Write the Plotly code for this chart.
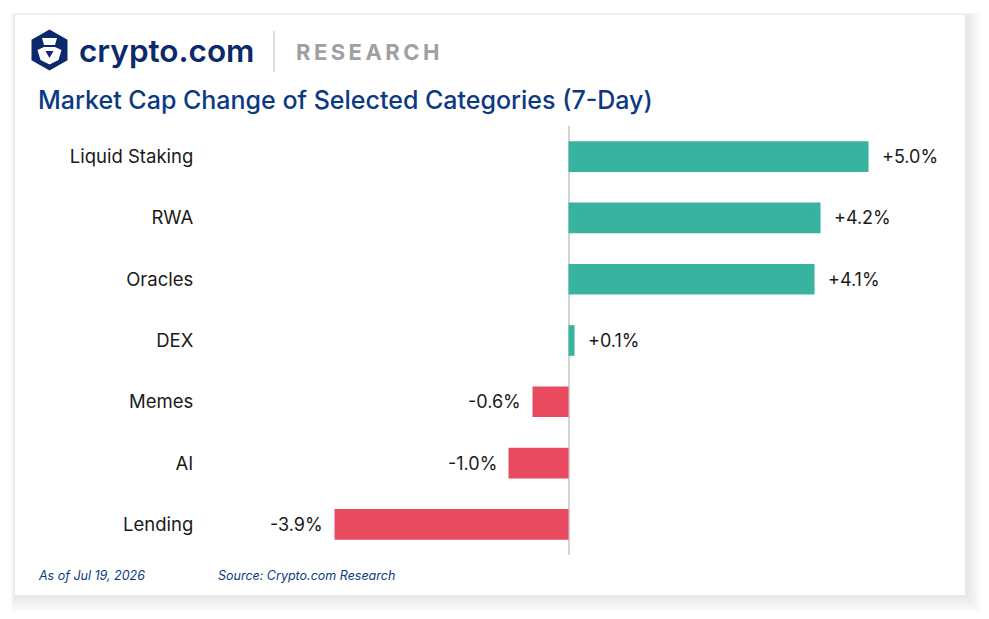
import plotly.graph_objects as go

# --- data ---
categories = ["Liquid Staking", "RWA", "Oracles", "DEX", "Memes", "AI", "Lending"]
changes = [5.0, 4.2, 4.1, 0.1, -0.6, -1.0, -3.9]

title_text = "Market Cap Change of Selected Categories (7-Day)"
as_of_text = "As of Jul 19, 2026"
source_text = "Source: Crypto.com Research"

POS_COLOR = "#37b39f"
NEG_COLOR = "#e84a5f"
NAVY = "#0b3a82"
FONT = "Inter, Roboto, Arial, sans-serif"

# page body has an 8px margin, so the figure is a bit smaller than the window
OFF = 8
W, H = 989 - 2 * OFF, 619 - 2 * OFF
ML, MT = 200 - OFF, 126 - OFF
PW, PH = 720, 429
MR, MB = W - ML - PW, H - MT - PH


# paper coords are relative to the plot area; convert from window pixels
def X(px):
    return (px - OFF - ML) / PW


def Y(py):
    return (MT + PH - (py - OFF)) / PH


def poly(points):
    return "M " + " L ".join(f"{X(a):.5f},{Y(b):.5f}" for a, b in points) + " Z"


fig = go.Figure(go.Bar(
    y=categories,
    x=changes,
    orientation="h",
    width=0.5,
    marker=dict(color=[POS_COLOR if v >= 0 else NEG_COLOR for v in changes], line=dict(width=0)),
    hoverinfo="skip",
))

shapes = []
# card shadow (soft, mostly right/bottom) + card
for i in range(8):
    d = 2 + i * 2.2
    shapes.append(dict(type="rect", xref="paper", yref="paper", layer="below",
                       x0=X(15 - d * 0.25), x1=X(965 + d), y0=Y(15 - d * 0.15), y1=Y(595 + d),
                       fillcolor="rgba(0,0,0,0.011)", line=dict(width=0)))
shapes.append(dict(type="rect", xref="paper", yref="paper", layer="below",
                   x0=X(15), x1=X(965), y0=Y(15), y1=Y(595),
                   fillcolor="white", line=dict(width=0)))

# logo hexagon and emblem
shapes.append(dict(type="path", xref="paper", yref="paper",
                   path=poly([(49.5, 29.5), (67.5, 39.8), (67.5, 60.2), (49.5, 70.5), (31.5, 60.2), (31.5, 39.8)]),
                   fillcolor="#0b2a6b", line=dict(width=0)))
shapes.append(dict(type="path", xref="paper", yref="paper",
                   path=poly([(42, 38), (57, 38), (55, 45), (44, 45)]),
                   fillcolor="white", line=dict(width=0)))
shapes.append(dict(type="path", xref="paper", yref="paper",
                   path=poly([(37.5, 50), (44, 47), (55, 47), (61.5, 50), (58.5, 60), (49.5, 64.5), (40.5, 60)]),
                   fillcolor="white", line=dict(width=0)))
shapes.append(dict(type="path", xref="paper", yref="paper",
                   path=poly([(45.5, 51), (53.5, 51), (49.5, 58)]),
                   fillcolor="#0b2a6b", line=dict(width=0)))
# separator
shapes.append(dict(type="line", xref="paper", yref="paper",
                   x0=X(274), x1=X(274), y0=Y(31), y1=Y(72),
                   line=dict(color="#d4d4d4", width=1.5)))

annotations = [
    dict(text="crypto.com", x=X(77), y=Y(50), xanchor="left", yanchor="middle",
         font=dict(family=FONT, size=31.5, color="#0b2a6b", weight=600)),
    dict(text="R\u2009E\u2009S\u2009E\u2009A\u2009R\u2009C\u2009H", x=X(294), y=Y(52), xanchor="left", yanchor="middle",
         font=dict(family=FONT, size=22, color="#a0a0a0", weight=700)),
    dict(text=title_text, x=X(36), y=Y(100), xanchor="left", yanchor="middle",
         font=dict(family=FONT, size=25, color=NAVY, weight=500)),
    dict(text=f"<i>{as_of_text}</i>", x=X(36), y=Y(575), xanchor="left", yanchor="middle",
         font=dict(family=FONT, size=12.5, color=NAVY)),
    dict(text=f"<i>{source_text}</i>", x=X(216), y=Y(575), xanchor="left", yanchor="middle",
         font=dict(family=FONT, size=12.5, color=NAVY)),
]

# value labels beside each bar
for cat, v in zip(categories, changes):
    annotations.append(dict(
        text=f"{v:+.1f}%", x=v, y=cat, xref="x", yref="y",
        xanchor="left" if v >= 0 else "right", yanchor="middle",
        xshift=11 if v >= 0 else -10, showarrow=False,
        font=dict(family=FONT, size=18, color="#1a1a1a"),
    ))

for a in annotations:
    a.setdefault("xref", "paper")
    a.setdefault("yref", "paper")
    a.setdefault("showarrow", False)

fig.update_layout(
    width=W, height=H,
    margin=dict(l=ML, r=MR, t=MT, b=MB),
    paper_bgcolor="white",
    plot_bgcolor="rgba(0,0,0,0)",
    showlegend=False,
    shapes=shapes,
    annotations=annotations,
    xaxis=dict(range=[-6.142, 5.858], showticklabels=False, showgrid=False,
               zeroline=True, zerolinecolor="#d3d3d3", zerolinewidth=2, fixedrange=True),
    yaxis=dict(autorange="reversed", showgrid=False, zeroline=False, ticks="outside",
               ticklen=2, tickcolor="rgba(0,0,0,0)",
               tickfont=dict(family=FONT, size=18.5, color="#1a1a1a"), fixedrange=True),
)

fig.write_html("out.html", config={"displayModeBar": False})
